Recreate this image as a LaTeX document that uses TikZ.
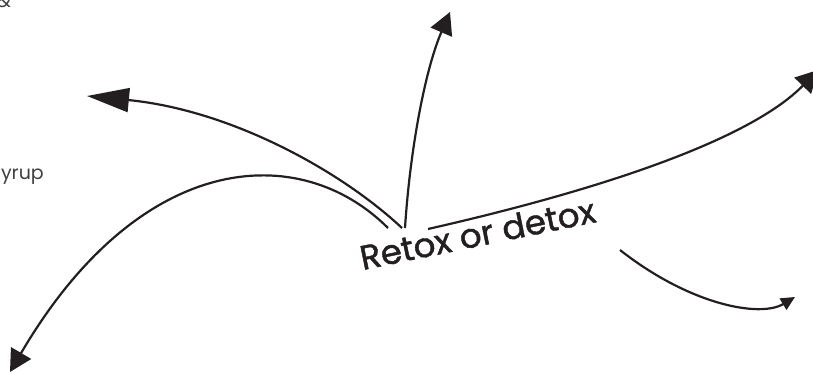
\documentclass[tikz,border=0pt]{standalone}
\usepackage{fontspec}
\setmainfont{Poppins}
\newfontfamily\titlefont{Poppins}[FakeBold=1.3]
\usetikzlibrary{arrows.meta}
\definecolor{ink}{HTML}{231F20}
\tikzset{
  branch/.style={ink, line width=2.2pt},
  bighead/.style={-{Triangle[length=22pt, width=23pt]}},
  longhead/.style={-{Triangle[length=42pt, width=24pt]}},
  smallhead/.style={-{Triangle[length=14pt, width=13pt]}},
  margin/.style={text=black!75, inner sep=0pt, font=\fontsize{19}{22}\selectfont},
}
\begin{document}
\begin{tikzpicture}[x=1pt, y=-1pt]
\useasboundingbox (0,0) rectangle (813,374);
\clip (0,0) rectangle (813,374);
% cut-off words at the left margin
\node[margin, anchor=base east] (amp) at (11,8) {\&};
\node[margin, anchor=base east] (syrup) at (44,179) {syrup};
% the title
\node[ink, inner sep=0pt, anchor=base, rotate=11.6,
      font=\titlefont\fontsize{34}{40}\selectfont] (title) at (480,246) {Retox or detox};
% where the branches start and end
\coordinate (s1) at (402,228);
\coordinate (s2) at (388,228);
\coordinate (s3) at (405,228);
\coordinate (s4) at (428,229);
\coordinate (s5) at (620,250);
\coordinate (e1) at (87,96);
\coordinate (e2) at (10,372);
\coordinate (e3) at (450,12);
\coordinate (e4) at (818,70);
\coordinate (e5) at (795,297);
% branches
\draw[branch, longhead] (s1) .. controls (340,170) and (230,110) .. (e1);
\draw[branch, bighead]  (s2) .. controls (300,140) and (140,150) .. (e2);
\draw[branch, bighead]  (s3) .. controls (410,150) and (425,70) .. (e3);
\draw[branch, bighead]  (s4) .. controls (600,190) and (750,140) .. (e4);
\draw[branch, smallhead] (s5) .. controls (690,305) and (760,318) .. (e5);
\end{tikzpicture}
\end{document}
